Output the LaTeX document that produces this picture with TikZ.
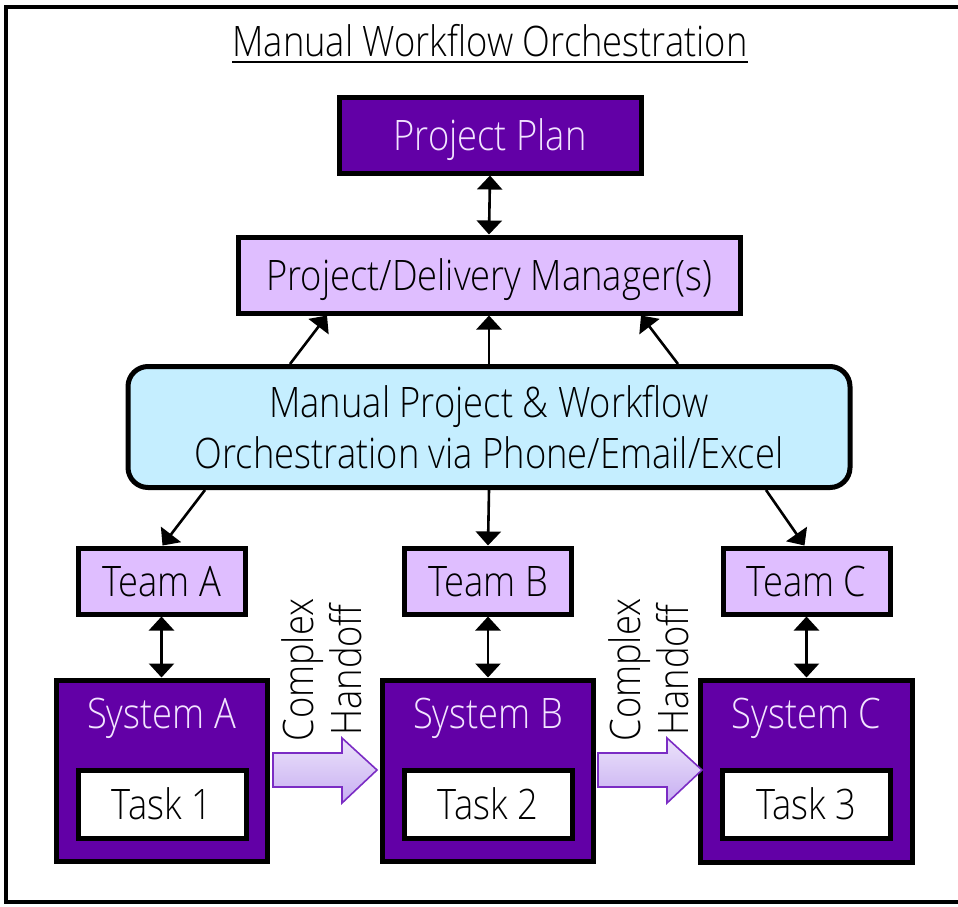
\documentclass[tikz,border=0pt]{standalone}
\usepackage{fontspec}
\IfFontExistsTF{Open Sans Light}
  {\setmainfont{Open Sans Light}[FakeStretch=0.865]}
  {\setmainfont{Open Sans}[FakeStretch=0.865]}
\usetikzlibrary{arrows.meta}

\definecolor{planpurple}{HTML}{6200A6}
\definecolor{lav}{HTML}{DFBEFF}
\definecolor{skyfill}{HTML}{C5EEFF}
\definecolor{lighttext}{HTML}{F2E4FF}
\definecolor{handoffline}{HTML}{7B2CC4}
\definecolor{handofftop}{HTML}{ECE3FA}
\definecolor{handoffbot}{HTML}{C7AEF2}

\tikzset{
  big/.style={font=\fontsize{42pt}{51pt}\selectfont},
  capbox/.style={big, inner sep=0pt, text height=30pt, text depth=0pt},
  darkbox/.style={capbox, draw=black, line width=5pt, fill=planpurple, text=lighttext},
  lightbox/.style={capbox, draw=black, line width=5pt, fill=lav, text=black},
  taskbox/.style={capbox, draw=black, line width=5pt, fill=white, text=black},
  skybox/.style={big, inner sep=0pt, draw=black, line width=5pt, fill=skyfill, rounded corners=20pt, align=center},
  syslabel/.style={big, inner sep=0pt, anchor=base, text=lighttext},
  arr/.style={line width=2.6pt, -{Triangle[length=14pt,width=25pt]}},
  dbl/.style={line width=2.6pt, {Triangle[length=14pt,width=25pt]}-{Triangle[length=14pt,width=25pt]}},
  handoff/.style={draw=handoffline, line width=1.6pt, top color=handofftop, bottom color=handoffbot},
  handofftext/.style={inner sep=0pt, rotate=90, align=center, font=\fontsize{42pt}{48pt}\selectfont}
}

\begin{document}
\begin{tikzpicture}[x=1pt, y=-1pt]
\useasboundingbox (0,0) rectangle (958,906);

% outer frame
\draw[line width=4pt] (6,7) rectangle (985,902);

% title
\node[big, inner sep=0pt, anchor=base] (title) at (490,56) {Manual Workflow Orchestration};
\draw[line width=2pt] ([yshift=-6pt]title.base west) -- ([yshift=-6pt]title.base east);

% top of the hierarchy
\node[darkbox, minimum width=302pt, minimum height=76pt] (plan) at (490,135) {Project Plan};
\node[lightbox, minimum width=502pt, minimum height=76pt] (pdm) at (489,275) {Project/Delivery Manager(s)};
\node[skybox, minimum width=722pt, minimum height=121pt]
      (manual) at (489,427) {Manual Project \& Workflow\\Orchestration via Phone/Email/Excel};

% teams
\node[lightbox, minimum width=167pt, minimum height=66pt] (teamA) at (161.5,581) {Team A};
\node[lightbox, minimum width=167pt, minimum height=66pt] (teamB) at (488,581) {Team B};
\node[lightbox, minimum width=167pt, minimum height=66pt] (teamC) at (806.5,581) {Team C};

% systems
\node[draw=black, line width=5pt, fill=planpurple, minimum width=211pt, minimum height=181pt] (sysA) at (161.5,770.5) {};
\node[draw=black, line width=5pt, fill=planpurple, minimum width=211pt, minimum height=181pt] (sysB) at (488,770.5) {};
\node[draw=black, line width=5pt, fill=planpurple, minimum width=212pt, minimum height=182pt] (sysC) at (806.5,771) {};

\node[syslabel] (sysAlab) at ([yshift=-51pt]sysA.north) {System A};
\node[syslabel] (sysBlab) at ([yshift=-51pt]sysB.north) {System B};
\node[syslabel] (sysClab) at ([yshift=-51pt]sysC.north) {System C};

% tasks
\node[taskbox, minimum width=168pt, minimum height=68pt] (task1) at (162,804) {Task 1};
\node[taskbox, minimum width=168pt, minimum height=68pt] (task2) at (488,804) {Task 2};
\node[taskbox, minimum width=168pt, minimum height=68pt] (task3) at (806.5,804) {Task 3};

% connectors
\draw[dbl] (plan.south) -- (pdm.north);
\draw[arr] ([xshift=-199pt]manual.north) -- ([xshift=-162pt]pdm.south);
\draw[arr] (manual.north) -- (pdm.south);
\draw[arr] ([xshift=189pt]manual.north) -- ([xshift=152pt]pdm.south);

\draw[arr] ([xshift=-284pt]manual.south) -- ([xshift=1pt]teamA.north);
\draw[arr] (manual.south) -- (teamB.north);
\draw[arr] ([xshift=277pt]manual.south) -- ([xshift=-2pt]teamC.north);

\draw[dbl] (teamA.south) -- (sysA.north);
\draw[dbl] (teamB.south) -- (sysB.north);
\draw[dbl] (teamC.south) -- (sysC.north);

% handoff block arrows
\path[handoff] (273,753) -- (342,753) -- (342,738) -- (377,770) -- (342,803) -- (342,787) -- (273,787) -- cycle;
\path[handoff] (598,753) -- (667,753) -- (667,738) -- (702,770) -- (667,803) -- (667,787) -- (598,787) -- cycle;

\node[handofftext] (hand1) at (322,670) {Complex\\Handoff};
\node[handofftext] (hand2) at (649,670) {Complex\\Handoff};
\end{tikzpicture}
\end{document}
